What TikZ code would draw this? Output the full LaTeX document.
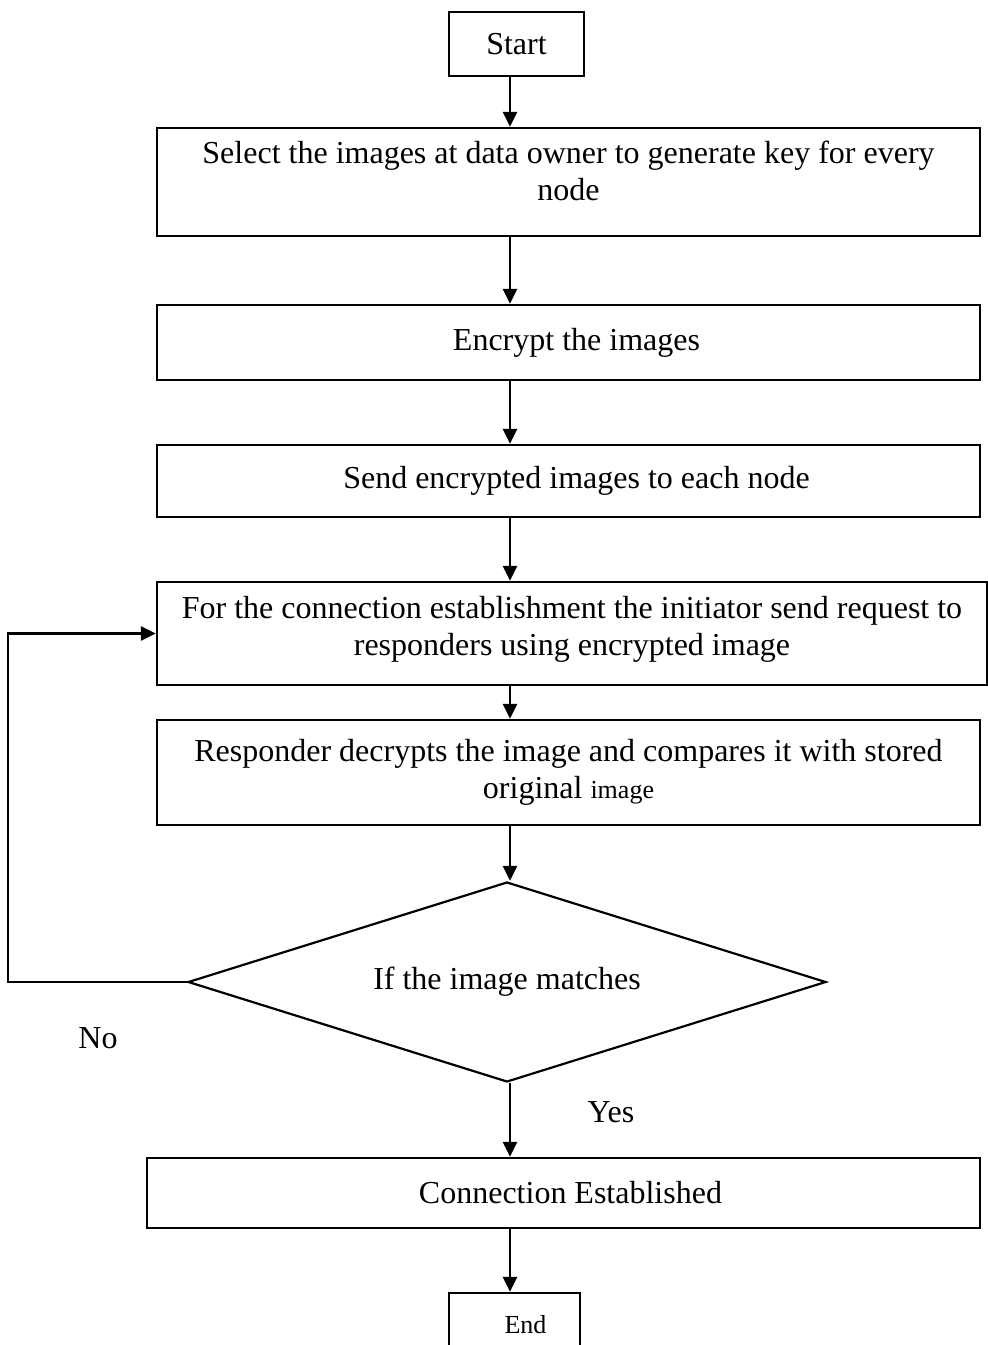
\documentclass[tikz,border=0pt]{standalone}
\usepackage{fontspec}
\setmainfont{Liberation Serif}
\usetikzlibrary{arrows.meta,shapes.geometric}

\tikzset{
    stepbox/.style={draw, line width=1.1pt, align=center, inner sep=0pt,
                    font=\fontsize{16}{18.5}\selectfont},
    decision/.style={stepbox, diamond, shape aspect=3.19},
    flow/.style={-{Triangle[length=7.5pt,width=7pt]}, line width=1.4pt},
    branch/.style={font=\fontsize{16}{18.5}\selectfont},
}

\begin{document}
\begin{tikzpicture}[x=0.5pt,y=-0.5pt]
    \useasboundingbox (0,0) rectangle (987,1345);
    \coordinate (axis) at (510,0);
    \coordinate (back) at (8,0);

    \node[stepbox, minimum width=67.5pt, minimum height=32pt] (start) at (516.5,44) {Start};
    \node[stepbox, minimum width=411.5pt, minimum height=54pt, text depth=11pt] (select) at (568.5,182)
        {Select the images at data owner to generate key for every\\node};
    \node[stepbox, minimum width=411.5pt, minimum height=37.5pt] (encrypt) at (568.5,342.5)
        {\hspace*{8pt}Encrypt the images};
    \node[stepbox, minimum width=411.5pt, minimum height=36pt] (send) at (568.5,481)
        {\hspace*{8pt}Send encrypted images to each node};
    \node[stepbox, minimum width=415pt, minimum height=51.5pt, text depth=8pt] (request) at (572,633.5)
        {For the connection establishment the initiator send request to\\responders using encrypted image};
    \node[stepbox, minimum width=411.5pt, minimum height=52.5pt] (compare) at (568.5,772.5)
        {Responder decrypts the image and compares it with stored\\original {\fontsize{13}{15}\selectfont image}};
    \node[decision, minimum width=319pt, minimum height=100pt] (match) at (507,982)
        {If the image matches};
    \node[stepbox, minimum width=416.5pt, minimum height=35pt] (established) at (563.5,1193)
        {\hspace*{7pt}Connection Established};
    \node[stepbox, minimum width=65.5pt, minimum height=32pt,
          font=\fontsize{13}{15}\selectfont] (finish) at (514.5,1325) {\hspace*{11pt}End};

    \draw[flow] (start.south -| axis) -- (select.north -| axis);
    \draw[flow] (select.south -| axis) -- (encrypt.north -| axis);
    \draw[flow] (encrypt.south -| axis) -- (send.north -| axis);
    \draw[flow] (send.south -| axis) -- (request.north -| axis);
    \draw[flow] (request.south -| axis) -- (compare.north -| axis);
    \draw[flow] (compare.south -| axis) -- (match.north -| axis);
    \draw[flow] (match.south -| axis) -- (established.north -| axis);
    \draw[flow] (established.south -| axis) -- (finish.north -| axis);

    % no match: back to the request step
    \draw[flow] (match.west) -- (match.west -| back) |- (request.west);
    \node[branch] (no) at (98,1038) {No};
    \node[branch] (yes) at (611,1112) {Yes};
\end{tikzpicture}
\end{document}
